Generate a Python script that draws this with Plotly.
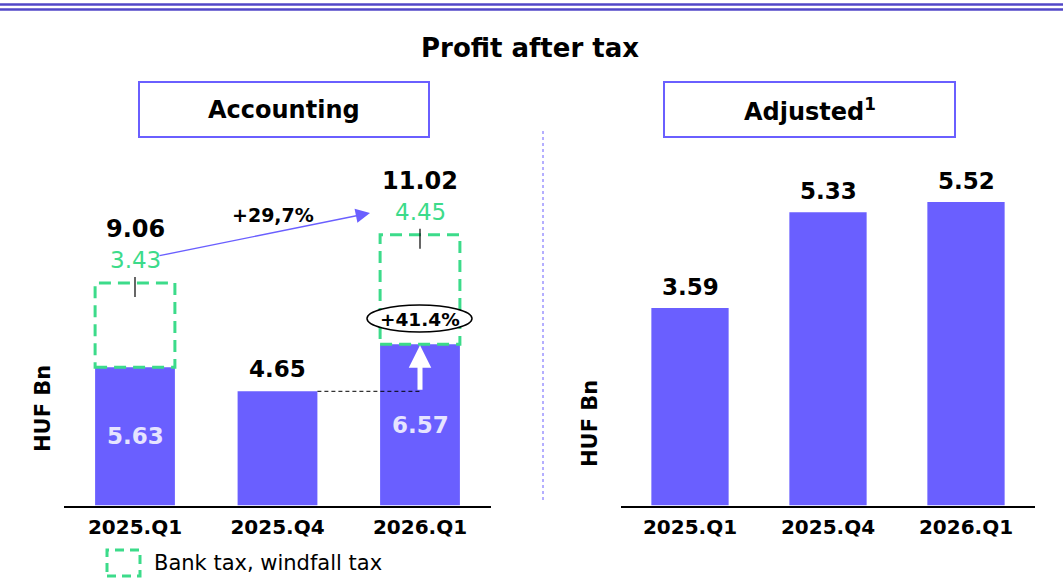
import plotly.graph_objects as go

# ---- data ----
categories = ["2025.Q1", "2025.Q4", "2026.Q1"]
accounting_pat = [5.63, 4.65, 6.57]
bank_tax = [3.43, None, 4.45]
adjusted_pat = [3.59, 5.33, 5.52]
growth_total_label = "+29,7%"
growth_core_label = "+41.4%"

W, H = 1063, 583
BAR = "#6A5FFF"
GREEN = "#3CDB8A"
FONT = "DejaVu Sans"


def xp(px):
    return px / W


def yp(py):
    return 1 - py / H


BASE = 505.5
TOP = 130
dom_y = [yp(BASE), yp(TOP)]
left_max = (BASE - TOP) / 24.56
right_max = (BASE - TOP) / 55.0

fig = go.Figure()
fig.add_trace(go.Bar(x=categories, y=accounting_pat, marker=dict(color=BAR, line=dict(width=0)),
                     xaxis="x", yaxis="y", showlegend=False, hoverinfo="skip"))
fig.add_trace(go.Bar(x=categories, y=adjusted_pat, marker=dict(color=BAR, line=dict(width=0)),
                     xaxis="x2", yaxis="y2", showlegend=False, hoverinfo="skip"))

shapes = []
ann = []
half = 0.28


def pann(x, y, text, size, color="black", **kw):
    d = dict(x=xp(x), y=yp(y), xref="paper", yref="paper", text=text, showarrow=False,
             xanchor="center", yanchor="middle", font=dict(family=FONT, size=size, color=color))
    d.update(kw)
    ann.append(d)


# ---- bank tax dashed boxes + labels (left) ----
for i, (c, a, t) in enumerate(zip(categories, accounting_pat, bank_tax)):
    if t is not None:
        total = a + t
        shapes.append(dict(type="rect", xref="x", yref="y", x0=i - half, x1=i + half, y0=a, y1=total,
                           line=dict(color=GREEN, width=3, dash="12px,7px"), fillcolor="rgba(0,0,0,0)"))
        shapes.append(dict(type="line", xref="x", yref="y", ysizemode="pixel", yanchor=total,
                           x0=i, x1=i, y0=-14, y1=6, line=dict(color="black", width=1.2)))
        ann.append(dict(x=c, y=total, xref="x", yref="y", text=f"{t:.2f}", showarrow=False,
                        xanchor="center", yanchor="middle",
                        yshift=23, font=dict(family=FONT, size=23, color=GREEN)))
        ann.append(dict(x=c, y=total, xref="x", yref="y", text=f"<b>{total:.2f}</b>", showarrow=False,
                        xanchor="center", yanchor="middle",
                        yshift=54, font=dict(family=FONT, size=24, color="black")))
        ann.append(dict(x=c, y=a / 2, xref="x", yref="y", text=f"<b>{a:.2f}</b>", showarrow=False,
                        xanchor="center", yanchor="middle",
                        font=dict(family=FONT, size=23, color="#E6E4FF")))
    else:
        ann.append(dict(x=c, y=a, xref="x", yref="y", text=f"<b>{a:.2f}</b>", showarrow=False,
                        xanchor="center", yanchor="middle",
                        yshift=22, font=dict(family=FONT, size=23, color="black")))

# ---- right value labels ----
for c, v in zip(categories, adjusted_pat):
    ann.append(dict(x=c, y=v, xref="x2", yref="y2", text=f"<b>{v:.2f}</b>", showarrow=False,
                    xanchor="center", yanchor="middle",
                    yshift=21, font=dict(family=FONT, size=23, color="black")))

# dashed reference line from 2025.Q4 bar top to 2026.Q1
shapes.append(dict(type="line", xref="x", yref="y", x0=1 + half, x1=2, y0=accounting_pat[1], y1=accounting_pat[1],
                   line=dict(color="black", width=1, dash="4px,3px")))
# white up arrow inside 2026.Q1 bar
ann.append(dict(x=2, y=accounting_pat[2], xref="x", yref="y", ax=2, ay=accounting_pat[1],
                axref="x", ayref="y", showarrow=True, arrowhead=2, arrowsize=0.9, arrowwidth=5,
                arrowcolor="white", text="", standoff=1))
# ellipse with +41.4%
shapes.append(dict(type="circle", xref="paper", yref="paper", x0=xp(367), x1=xp(472), y0=yp(332), y1=yp(305),
                   line=dict(color="black", width=1.5), fillcolor="white", layer="above"))
pann(420, 319, f"<b>{growth_core_label}</b>", 18.5)

# +29,7% arrow
ann.append(dict(x=xp(370), y=yp(213), xref="paper", yref="paper", ax=158 - 370, ay=256 - 213,
                showarrow=True, arrowhead=2, arrowsize=2.2, arrowwidth=1.3, arrowcolor=BAR, text=""))
pann(273, 215, f"<b>{growth_total_label}</b>", 19)

# ---- titles and boxes ----
pann(530, 48, "<b>Profit after tax</b>", 26)
shapes.append(dict(type="rect", xref="paper", yref="paper", x0=xp(139), x1=xp(429), y0=yp(137), y1=yp(82),
                   line=dict(color=BAR, width=2), fillcolor="white", layer="below"))
shapes.append(dict(type="rect", xref="paper", yref="paper", x0=xp(664), x1=xp(955), y0=yp(137), y1=yp(82),
                   line=dict(color=BAR, width=2), fillcolor="white", layer="below"))
pann(284, 110, "<b>Accounting</b>", 24)
pann(810, 110, "<b>Adjusted<sup>1</sup></b>", 24)

# axis titles
pann(43, 409, "<b>HUF Bn</b>", 21, textangle=-90)
pann(590, 424, "<b>HUF Bn</b>", 21, textangle=-90)

# legend
shapes.append(dict(type="rect", xref="paper", yref="paper", x0=xp(107), x1=xp(140), y0=yp(576), y1=yp(550),
                   line=dict(color=GREEN, width=3, dash="9px,6px"), fillcolor="rgba(0,0,0,0)"))
pann(152, 563, "Bank tax, windfall tax", 21, xanchor="left")

# separator and top rules
shapes.append(dict(type="line", xref="paper", yref="paper", x0=xp(543), x1=xp(543), y0=yp(500), y1=yp(129),
                   line=dict(color=BAR, width=1, dash="dot")))
for yy in (4.5, 9.5):
    shapes.append(dict(type="line", xref="paper", yref="paper", x0=0, x1=1, y0=yp(yy), y1=yp(yy),
                       line=dict(color="#5247C8", width=2.5)))

axis_common = dict(showgrid=False, zeroline=False, showline=True, linecolor="black", linewidth=1.5,
                   ticks="", tickfont=dict(family=FONT, size=20, color="black", weight="bold"),
                   ticklabelstandoff=3, fixedrange=True)
yaxis_common = dict(showgrid=False, zeroline=False, showline=False, showticklabels=False, ticks="",
                    fixedrange=True)

fig.update_layout(
    width=W, height=H,
    margin=dict(l=0, r=0, t=0, b=0),
    paper_bgcolor="white", plot_bgcolor="white",
    bargap=0.44,
    showlegend=False,
    xaxis=dict(domain=[xp(63.75), xp(491.25)], anchor="y", range=[-0.5, 2.5], **axis_common),
    yaxis=dict(domain=dom_y, anchor="x", range=[0, left_max], **yaxis_common),
    xaxis2=dict(domain=[xp(621), xp(1035)], anchor="y2", range=[-0.5, 2.5], **axis_common),
    yaxis2=dict(domain=dom_y, anchor="x2", range=[0, right_max], **yaxis_common),
    shapes=shapes,
    annotations=ann,
)

fig.write_html("out.html", config={"displayModeBar": False},
               post_script="document.body.style.margin='0';document.body.style.overflow='hidden';")
